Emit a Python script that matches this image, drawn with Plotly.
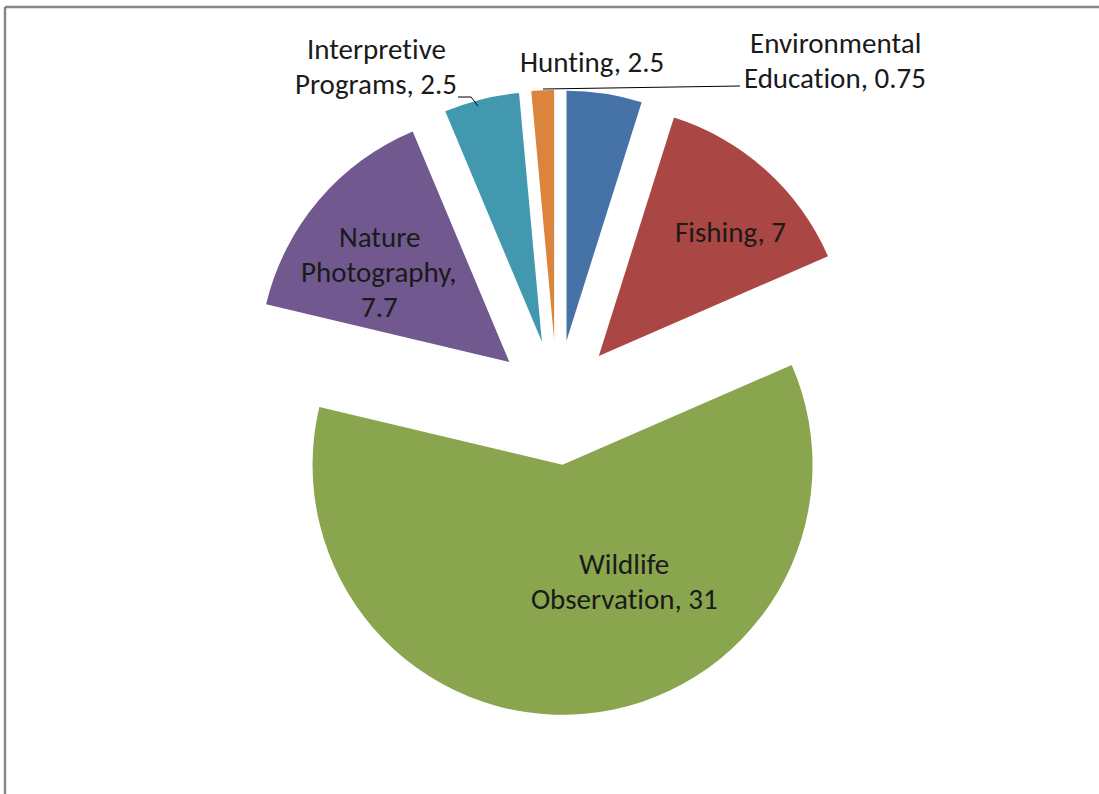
import plotly.graph_objects as go

# ---- data ----
labels = ["Hunting", "Fishing", "Wildlife Observation", "Nature Photography",
          "Interpretive Programs", "Environmental Education"]
values = [2.5, 7, 31, 7.7, 2.5, 0.75]
colors = ["#4572A7", "#AA4643", "#89A54E", "#71588F", "#4198AF", "#DB843D"]

W, H = 1099, 794
FONT = "Calibri, Carlito, Lato, sans-serif"
FONT_SIZE = 29
LINE_GAP = 35

def px(x):
    return x / W

def py(y):
    return 1 - y / H

# pie geometry: centre (557, 402.5), radius 250, pull 0.25
cx, cy, r, pull = 557, 402.5, 250, 0.25
half = r * (1 + pull)

fig = go.Figure(go.Pie(
    labels=labels,
    values=values,
    sort=False,
    direction="clockwise",
    rotation=0,
    pull=[pull] * len(values),
    marker=dict(colors=colors, line=dict(width=0)),
    textinfo="none",
    hoverinfo="label+value",
    showlegend=False,
    domain=dict(x=[px(cx - half), px(cx + half)],
                y=[py(cy + half), py(cy - half)]),
))

def fmt(v):
    return f"{v:g}"

# which spaces in "<name>, <value>" become line breaks
breaks = {
    "Hunting": [],
    "Fishing": [],
    "Wildlife Observation": [0],
    "Nature Photography": [0, 1],
    "Interpretive Programs": [0],
    "Environmental Education": [0],
}
# label block: centre x, centre y of first line
label_pos = {
    "Hunting": (592, 62),
    "Fishing": (730, 232),
    "Wildlife Observation": (624, 564),
    "Nature Photography": (379, 237),
    "Interpretive Programs": (376, 49),
    "Environmental Education": (835, 43),
}

annotations = []
for name, v in zip(labels, values):
    words = f"{name}, {fmt(v)}".split(" ")
    lines = [words[0]]
    for i, w in enumerate(words[1:]):
        if i in breaks[name]:
            lines.append(w)
        else:
            lines[-1] += " " + w
    x, y = label_pos[name]
    for k, line in enumerate(lines):
        annotations.append(dict(
            x=px(x), y=py(y + k * LINE_GAP), xref="paper", yref="paper",
            text=line, showarrow=False, xanchor="center", yanchor="middle",
            font=dict(family=FONT, size=FONT_SIZE, color="#1a1a1a"),
        ))

def path(points):
    return "M " + " L ".join(f"{px(a)},{py(b)}" for a, b in points)

shapes = [
    # leader lines
    dict(type="path", xref="paper", yref="paper",
         path=path([(458, 97), (471, 97), (478, 106)]),
         line=dict(color="#000000", width=1)),
    dict(type="path", xref="paper", yref="paper",
         path=path([(543, 89), (740, 86)]),
         line=dict(color="#000000", width=1)),
    # chart frame
    dict(type="line", xref="paper", yref="paper",
         x0=px(5), y0=py(7), x1=px(1100), y1=py(7),
         line=dict(color="#878787", width=2.5)),
    dict(type="line", xref="paper", yref="paper",
         x0=px(5), y0=py(7), x1=px(5), y1=py(800),
         line=dict(color="#878787", width=2.5)),
]

fig.update_layout(
    width=W, height=H,
    margin=dict(l=0, r=0, t=0, b=0),
    paper_bgcolor="white",
    plot_bgcolor="white",
    annotations=annotations,
    shapes=shapes,
)

post = (
    "document.body.style.margin='0';"
    "document.body.style.overflow='hidden';"
    "document.querySelectorAll('text').forEach(function(t){"
    "t.style.fontVariantLigatures='none';t.style.fontFeatureSettings='\"liga\" 0, \"clig\" 0';});"
)

fig.write_html("out.html", config={"displayModeBar": False}, post_script=post)
